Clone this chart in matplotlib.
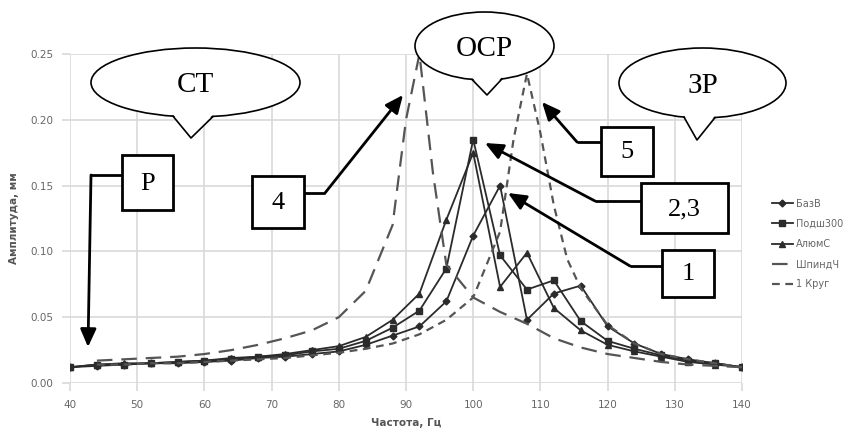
import numpy as np
import matplotlib
matplotlib.use("Agg")
import matplotlib.pyplot as plt
from matplotlib.patches import Ellipse, Polygon, Rectangle

# -------------------------
# Data
# -------------------------
freq = [40, 44, 48, 52, 56, 60, 64, 68, 72, 76, 80, 84, 88, 92, 96,
        100, 104, 108, 112, 116, 120, 124, 128, 132, 136, 140]

baz_v = [0.012, 0.013, 0.014, 0.015, 0.015, 0.016, 0.017, 0.019, 0.020, 0.022, 0.024, 0.029, 0.036,
         0.043, 0.062, 0.112, 0.150, 0.048, 0.068, 0.074, 0.043, 0.030, 0.022, 0.018, 0.015, 0.012]
podsh300 = [0.012, 0.014, 0.014, 0.015, 0.016, 0.017, 0.018, 0.020, 0.021, 0.024, 0.026, 0.032, 0.042,
            0.055, 0.087, 0.185, 0.097, 0.071, 0.078, 0.047, 0.032, 0.026, 0.021, 0.017, 0.015, 0.012]
alyum_s = [0.012, 0.014, 0.015, 0.015, 0.016, 0.017, 0.019, 0.020, 0.022, 0.025, 0.028, 0.035, 0.048,
           0.068, 0.124, 0.175, 0.073, 0.099, 0.057, 0.040, 0.029, 0.024, 0.020, 0.016, 0.014, 0.012]

freq_shp = [44, 48, 52, 56, 60, 64, 68, 72, 76, 80, 84, 88, 90, 92, 94, 96,
            100, 104, 108, 112, 116, 120, 124, 128, 132, 136, 140]
shpind_ch = [0.017, 0.018, 0.019, 0.020, 0.022, 0.025, 0.029, 0.034, 0.040, 0.050, 0.070, 0.120, 0.200,
             0.250, 0.160, 0.090, 0.065, 0.054, 0.045, 0.034, 0.027, 0.022, 0.019, 0.016, 0.014, 0.013, 0.012]

freq_kr = [44, 48, 52, 56, 60, 64, 68, 72, 76, 80, 84, 88, 92, 96, 100, 104,
           106, 108, 110, 112, 114, 116, 120, 124, 128, 132, 136, 140]
krug1 = [0.014, 0.014, 0.015, 0.015, 0.016, 0.017, 0.018, 0.019, 0.021, 0.023, 0.026, 0.030, 0.037,
         0.048, 0.065, 0.115, 0.185, 0.235, 0.190, 0.135, 0.094, 0.072, 0.044, 0.030, 0.022, 0.018,
         0.015, 0.012]

x_ticks = [40, 50, 60, 70, 80, 90, 100, 110, 120, 130, 140]
y_ticks = [0.00, 0.05, 0.10, 0.15, 0.20, 0.25]

W, H = 862, 434
fig = plt.figure(figsize=(W / 100, H / 100), dpi=100)

# plot area in pixels: x 70..742, y 54..383
ax = fig.add_axes([70 / W, (H - 383) / H, 672 / W, (383 - 54) / H])

line_c = "#2b2b2b"
dash_c = "#555555"
ax.plot(freq, baz_v, color=line_c, lw=1.3, marker="D", ms=3.5, label="БазВ")
ax.plot(freq, podsh300, color=line_c, lw=1.3, marker="s", ms=5, label="Подш300")
ax.plot(freq, alyum_s, color=line_c, lw=1.3, marker="^", ms=5, label="АлюмС")
ax.plot(freq_shp, shpind_ch, color=dash_c, lw=1.6, dashes=(7, 4), label="ШпиндЧ")
ax.plot(freq_kr, krug1, color=dash_c, lw=1.6, dashes=(3.5, 2.5), label="1 Круг")

ax.set_xlim(40, 140)
ax.set_ylim(0, 0.25)
ax.set_xticks(x_ticks)
ax.set_yticks(y_ticks)
ax.set_yticklabels([f"{v:.2f}" for v in y_ticks])
ax.grid(True, color="#d9d9d9", lw=1.2)
ax.set_axisbelow(True)
for s in ax.spines.values():
    s.set_visible(False)
ax.tick_params(colors="#d9d9d9", labelcolor="#666666", labelsize=7.5, length=6, width=1.2, pad=6)
ax.set_xlabel("Частота, Гц", fontsize=7.5, fontweight="bold", color="#555555", labelpad=6)
ax.set_ylabel("Амплитуда, мм", fontsize=7.5, fontweight="bold", color="#555555", labelpad=8)

leg = ax.legend(loc="center left", bbox_to_anchor=(763 / W, (H - 244) / H),
                bbox_transform=fig.transFigure, frameon=False, fontsize=7,
                handlelength=2.2, labelspacing=1.05, handletextpad=0.3)
for t in leg.get_texts():
    t.set_color("#666666")

# -------------------------
# Overlay annotations (pixel coords)
# -------------------------
ov = fig.add_axes([0, 0, 1, 1])
ov.set_xlim(0, W)
ov.set_ylim(H, 0)
ov.axis("off")

serif = "Liberation Serif"


def callout(cx, cy, a, b, bx1, bx2, tip, text):
    ov.add_patch(Ellipse((cx, cy), 2 * a, 2 * b, fc="white", ec="black", lw=1.2, zorder=5))
    y1 = cy + b * np.sqrt(max(0, 1 - ((bx1 - cx) / a) ** 2))
    y2 = cy + b * np.sqrt(max(0, 1 - ((bx2 - cx) / a) ** 2))
    ov.add_patch(Polygon([(bx1, y1 - 2), tip, (bx2, y2 - 2)], closed=True,
                         fc="white", ec="none", zorder=6))
    ov.plot([bx1, tip[0], bx2], [y1, tip[1], y2], color="black", lw=1.2, zorder=7)
    ov.text(cx, cy + 3, text, fontsize=21, family=serif, ha="center", va="center", zorder=8)


callout(195.5, 82.5, 104.5, 34.5, 173, 213, (191, 138), "СТ")
callout(484.5, 46, 69.5, 34, 472, 502, (487, 95), "ОСР")
callout(702.5, 83, 83.5, 35, 684, 715, (697, 140), "ЗР")


def box(x0, y0, x1, y1, text):
    ov.add_patch(Rectangle((x0, y0), x1 - x0, y1 - y0, fc="white", ec="black", lw=2, zorder=5))
    ov.text((x0 + x1) / 2, (y0 + y1) / 2 + 1, text, fontsize=19, family=serif,
            ha="center", va="center", zorder=8)


def pointer(pts, tip):
    xs = [p[0] for p in pts]
    ys = [p[1] for p in pts]
    ov.plot(xs, ys, color="black", lw=2, zorder=4, solid_capstyle="butt")
    ov.annotate("", xy=tip, xytext=pts[-1],
                arrowprops=dict(arrowstyle="-|>,head_length=0.9,head_width=0.4",
                                color="black", lw=2, shrinkA=0, shrinkB=0,
                                mutation_scale=12), zorder=4)


box(122, 155, 173, 210, "Р")
pointer([(122, 175), (91, 175)], (88, 347))

box(252, 176, 304, 228, "4")
pointer([(304, 193), (325, 193)], (403, 95))

box(601, 127, 653, 176, "5")
pointer([(601, 142), (577, 142)], (542, 102))

box(641, 183, 728, 233, "2,3")
pointer([(641, 201), (595, 201)], (485, 143))

box(662, 250, 714, 297, "1")
pointer([(662, 266), (630, 266)], (508, 193))

fig.savefig("out.png", dpi=100)
